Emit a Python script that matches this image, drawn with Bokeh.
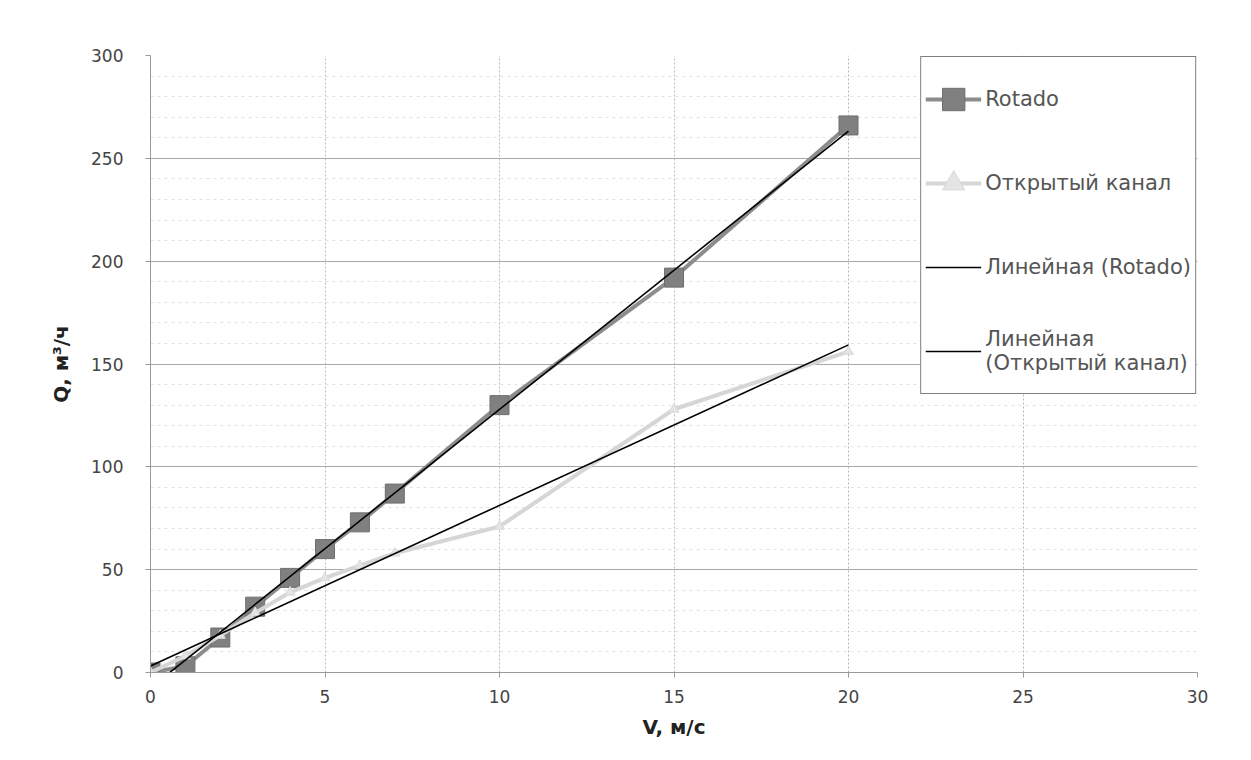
import numpy as np
from bokeh.plotting import figure
from bokeh.models import (Range1d, SingleIntervalTicker, Legend, LegendItem)
from bokeh.embed import file_html
from bokeh.resources import INLINE

# ---- data ----
v = [0, 1, 2, 3, 4, 5, 6, 7, 10, 15, 20]
q_rotado = [0, 3, 17, 32, 46, 60, 73, 87, 130, 192, 266]
q_open = [0, 8, 18, 29, 39, 46, 52, 58, 71, 128, 156]
x_ticks_interval = 5
y_ticks_interval = 50
x_title = "V, м/с"
y_title = "Q, м³/ч"
names = ["Rotado", "Открытый канал", "Линейная (Rotado)", "Линейная\n(Открытый канал)"]

FONT = "DejaVu Sans"

p = figure(width=1235, height=744, output_backend="svg", toolbar_location=None,
           x_range=Range1d(0, 30), y_range=Range1d(0, 300),
           min_border_left=150, min_border_right=38, min_border_top=55, min_border_bottom=72)
p.background_fill_color = "white"
p.border_fill_color = "white"
p.outline_line_color = None

p.xaxis.ticker = SingleIntervalTicker(interval=x_ticks_interval, num_minor_ticks=0)
p.yaxis.ticker = SingleIntervalTicker(interval=y_ticks_interval, num_minor_ticks=5)

for ax in (p.xaxis[0], p.yaxis[0]):
    ax.axis_line_color = "#9a9a9a"
    ax.major_tick_line_color = "#9a9a9a"
    ax.major_tick_out = 5
    ax.major_tick_in = 0
    ax.minor_tick_line_color = None
    ax.major_label_text_font = FONT
    ax.major_label_text_font_size = "17px"
    ax.major_label_text_color = "#444444"
    ax.axis_label_text_font = FONT
    ax.axis_label_text_font_style = "bold"
    ax.axis_label_text_font_size = "20px"
    ax.axis_label_text_color = "#222222"

p.xaxis.axis_label = x_title
p.yaxis.axis_label = y_title
p.xaxis.major_label_standoff = 12
p.xaxis.axis_label_standoff = 9
p.yaxis.major_label_standoff = 22
p.yaxis.axis_label_standoff = 15

p.xgrid.grid_line_color = "#b8b8b8"
p.xgrid.grid_line_dash = "2 2"
p.ygrid.grid_line_color = "#a8a8a8"
p.ygrid.minor_grid_line_color = "#e2e2e2"
p.ygrid.minor_grid_line_dash = "3 4"

# series
r_line = p.line(v, q_rotado, line_color="#8c8c8c", line_width=4)
r_mark = p.scatter(v, q_rotado, marker="square", size=19, fill_color="#808080",
                   line_color="#6e6e6e")
o_line = p.line(v, q_open, line_color="#d6d6d6", line_width=4)
o_mark = p.scatter(v, q_open, marker="triangle", size=10, fill_color="#e4e4e4",
                   line_color="#dadada")

# linear trendlines (least squares, like the spreadsheet)
xs = np.array([min(v), max(v)], dtype=float)
k1, b1 = np.polyfit(v, q_rotado, 1)
k2, b2 = np.polyfit(v, q_open, 1)
t1 = p.line(xs, k1 * xs + b1, line_color="black", line_width=1.6)
t2 = p.line(xs, k2 * xs + b2, line_color="black", line_width=1.6)

legend = Legend(items=[
    LegendItem(label=names[0], renderers=[r_line, r_mark]),
    LegendItem(label=names[1], renderers=[o_line, o_mark]),
    LegendItem(label=names[2], renderers=[t1]),
    LegendItem(label=names[3], renderers=[t2]),
], location="top_right")
legend.border_line_color = "black"
legend.border_line_width = 1.5
legend.background_fill_color = "white"
legend.background_fill_alpha = 1.0
legend.label_text_font = FONT
legend.label_text_font_size = "21px"
legend.label_text_color = "#555555"
legend.glyph_width = 56
legend.glyph_height = 76
legend.label_height = 76
legend.spacing = 8
legend.padding = 4
legend.margin = 1
legend.label_standoff = 4
p.add_layout(legend, "center")

open("out.html", "w").write(file_html(p, INLINE))
